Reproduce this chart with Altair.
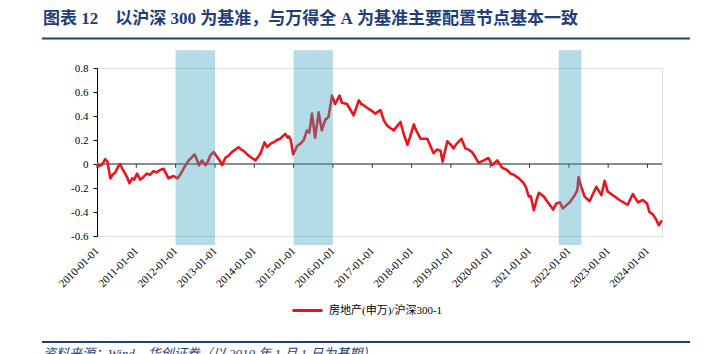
import altair as alt
import pandas as pd

# ---------------- data ----------------
dates = [
    "2010-01-04", "2010-01-15", "2010-01-30", "2010-02-14", "2010-03-18", "2010-04-08",
    "2010-05-05", "2010-05-26", "2010-06-20", "2010-07-12", "2010-08-04", "2010-08-25",
    "2010-09-20", "2010-10-12", "2010-10-30", "2010-11-24", "2010-12-12", "2011-01-08",
    "2011-02-06", "2011-03-07", "2011-04-08", "2011-05-08", "2011-06-10", "2011-07-09",
    "2011-08-10", "2011-09-13", "2011-10-05", "2011-10-27", "2011-11-18", "2011-12-13",
    "2012-01-19", "2012-02-13", "2012-03-14", "2012-05-01", "2012-05-26", "2012-06-25",
    "2012-07-16", "2012-08-05", "2012-09-02", "2012-10-05", "2012-10-27", "2012-11-17",
    "2012-12-20", "2013-01-19", "2013-02-13", "2013-03-08", "2013-04-06", "2013-05-08",
    "2013-06-07", "2013-07-09", "2013-08-08", "2013-09-02", "2013-09-24", "2013-10-27",
    "2013-11-24", "2014-01-12", "2014-02-06", "2014-02-28", "2014-04-06", "2014-05-01",
    "2014-06-03", "2014-06-28", "2014-07-31", "2014-08-29", "2014-09-20", "2014-10-16",
    "2014-11-07", "2014-11-18", "2014-12-06", "2014-12-28", "2015-02-03", "2015-03-07",
    "2015-04-06", "2015-05-05", "2015-05-27", "2015-06-21", "2015-07-20", "2015-08-22",
    "2015-09-20", "2015-10-23", "2015-11-21", "2015-12-24", "2016-01-22", "2016-03-03",
    "2016-03-25", "2016-05-11", "2016-06-13", "2016-07-12", "2016-08-29", "2016-09-20",
    "2016-10-12", "2016-11-28", "2017-01-01", "2017-01-30", "2017-03-18", "2017-04-20",
    "2017-05-19", "2017-06-17", "2017-07-20", "2017-08-14", "2017-09-20", "2017-10-20",
    "2017-11-24", "2017-12-16", "2018-01-22", "2018-02-13", "2018-03-26", "2018-05-27",
    "2018-06-25", "2018-07-24", "2018-08-25", "2018-09-27", "2018-10-16", "2018-11-29",
    "2019-01-01", "2019-01-26", "2019-02-24", "2019-04-09", "2019-05-16", "2019-06-14",
    "2019-07-16", "2019-08-14", "2019-09-16", "2019-11-02", "2019-12-16", "2020-01-19",
    "2020-03-07", "2020-04-20", "2020-06-06", "2020-07-08", "2020-08-08", "2020-09-24",
    "2020-11-07", "2020-12-01", "2020-12-24", "2021-01-12", "2021-02-10", "2021-03-07",
    "2021-03-28", "2021-05-12", "2021-06-28", "2021-08-08", "2021-09-06", "2021-10-09",
    "2021-11-06", "2022-01-08", "2022-02-24", "2022-03-20", "2022-04-01", "2022-04-26",
    "2022-05-26", "2022-07-12", "2022-09-13", "2022-10-30", "2022-11-29", "2022-12-28",
    "2023-02-14", "2023-04-16", "2023-07-01", "2023-08-18", "2023-10-05", "2023-11-18",
    "2023-12-28", "2024-01-19", "2024-02-20", "2024-03-20", "2024-04-15", "2024-05-14",
]
values = [
    0.00, -0.02, -0.01, -0.01, 0.04, 0.02,
    -0.12, -0.09, -0.07, -0.03, 0.00, -0.04,
    -0.08, -0.12, -0.16, -0.12, -0.13, -0.08,
    -0.13, -0.11, -0.08, -0.09, -0.06, -0.07,
    -0.05, -0.04, -0.08, -0.12, -0.11, -0.10,
    -0.12, -0.09, -0.04, 0.03, 0.05, 0.08,
    0.04, -0.01, 0.03, -0.01, 0.02, 0.07,
    0.10, 0.06, 0.03, -0.01, 0.05, 0.07,
    0.10, 0.12, 0.14, 0.12, 0.11, 0.08,
    0.06, 0.03, 0.06, 0.09, 0.18, 0.14,
    0.17, 0.18, 0.20, 0.21, 0.23, 0.25,
    0.22, 0.23, 0.20, 0.08, 0.15, 0.17,
    0.20, 0.28, 0.26, 0.42, 0.22, 0.43,
    0.28, 0.37, 0.39, 0.57, 0.50, 0.57,
    0.51, 0.50, 0.45, 0.405, 0.53, 0.50,
    0.49, 0.46, 0.44, 0.42, 0.45, 0.36,
    0.32, 0.30, 0.28, 0.31, 0.35, 0.25,
    0.16, 0.22, 0.33, 0.28, 0.21, 0.21,
    0.15, 0.09, 0.12, 0.11, 0.02, 0.19,
    0.16, 0.13, 0.17, 0.21, 0.13, 0.12,
    0.10, 0.06, 0.01, 0.03, 0.05, -0.01,
    0.03, -0.03, -0.05, -0.08, -0.09, -0.12,
    -0.16, -0.20, -0.27, -0.27, -0.385, -0.30,
    -0.24, -0.27, -0.33, -0.38, -0.33, -0.32,
    -0.37, -0.32, -0.26, -0.22, -0.11, -0.19,
    -0.27, -0.31, -0.19, -0.26, -0.14, -0.23,
    -0.26, -0.30, -0.34, -0.25, -0.32, -0.30,
    -0.33, -0.40, -0.42, -0.46, -0.51, -0.47,
]
series_name = "房地产(申万)/沪深300-1"

band_starts = ["2012-01-01", "2015-01-01", "2021-09-28"]
band_ends = ["2013-01-01", "2016-01-01", "2022-04-27"]
band_low, band_high = -0.675, 0.947

years = list(range(2010, 2025))
year_ticks = [f"{y}-01-01" for y in years]
x_start, x_end = "2010-01-01", "2024-05-15"
y_ticks = [-0.6, -0.4, -0.2, 0, 0.2, 0.4, 0.6, 0.8]

NB = "\u00a0"
title_text = ("图表" + NB + "12" + NB * 4 + "以沪深" + NB + "300" + NB + "为基准，与万得全"
              + NB + "A" + NB + "为基准主要配置节点基本一致")
source_text = "资料来源：Wind，华创证券（以 2010 年 1 月 1 日为基期）"

# ---------------- tables ----------------
line_df = pd.DataFrame({"date": dates, "value": values, "series": series_name})
band_df = pd.DataFrame({"start": band_starts, "end": band_ends,
                        "lo": band_low, "hi": band_high})
tick_df = pd.DataFrame({"date": year_ticks, "y0": 0.0, "y1": -0.032})
zero_df = pd.DataFrame({"start": [x_start], "end": [x_end], "y": [0.0]})

W, H = 565, 168
NAVY = "#1F3E78"
SERIF = "Liberation Serif, Noto Sans CJK SC"

xscale = alt.Scale(domain=[x_start, x_end])
yscale = alt.Scale(domain=[-0.6, 0.8])

x_axis = alt.Axis(
    values=[alt.DateTime(year=y, month=1, date=1) for y in years],
    format="%Y-%m-%d", labelAngle=-45, labelAlign="right", labelBaseline="middle",
    domain=False, ticks=False, tickSize=0, grid=False, labelPadding=13,
    labelFont=SERIF, labelFontSize=11, labelColor="#000", title=None,
    labelOverlap=False,
)
y_axis = alt.Axis(
    values=y_ticks, grid=False, domainColor="#000", tickColor="#000", tickSize=4,
    labelFont=SERIF, labelFontSize=11, labelColor="#000", labelPadding=5, title=None,
    labelOverlap=False, labelBound=False,
    labelExpr="datum.value < -0.01 ? '-' + format(-datum.value, '.1f') : (datum.value < 0.01 ? '0' : format(datum.value, '.1f'))",
)

zero_line = alt.Chart(zero_df).mark_rule(color="#8C8C8C", strokeWidth=2).encode(
    x=alt.X("start:T", scale=xscale, axis=x_axis),
    x2="end:T",
    y=alt.Y("y:Q", scale=yscale, axis=y_axis),
)

ticks = alt.Chart(tick_df).mark_rule(color="#333", strokeWidth=1).encode(
    x=alt.X("date:T", scale=xscale, axis=x_axis),
    y=alt.Y("y0:Q", scale=yscale, axis=y_axis),
    y2="y1:Q",
)

line = alt.Chart(line_df).mark_line(strokeWidth=2.6, strokeJoin="round").encode(
    x=alt.X("date:T", scale=xscale, axis=x_axis),
    y=alt.Y("value:Q", scale=yscale, axis=y_axis),
    color=alt.Color(
        "series:N",
        scale=alt.Scale(domain=[series_name], range=["#E8141E"]),
        legend=alt.Legend(
            title=None, orient="none", legendX=194, legendY=226,
            symbolType="stroke", symbolSize=900, symbolStrokeWidth=3,
            labelFont=SERIF, labelFontSize=11, labelColor="#000", labelOffset=5,
            padding=0,
        ),
    ),
)

bands = alt.Chart(band_df).mark_rect(color="#3AA3BD", opacity=0.38).encode(
    x=alt.X("start:T", scale=xscale, axis=x_axis),
    x2="end:T",
    y=alt.Y("lo:Q", scale=yscale, axis=y_axis),
    y2="hi:Q",
)

one = alt.Data(values=[{}])
title = alt.Chart(one).mark_text(
    text=title_text, font=SERIF, fontSize=17, fontWeight="bold", color=NAVY,
    align="left", baseline="alphabetic",
).encode(x=alt.value(-54), y=alt.value(-44))

top_rule = alt.Chart(one).mark_rule(color=NAVY, strokeWidth=2).encode(
    x=alt.value(-55), x2=alt.value(593), y=alt.value(-29.5))
bottom_rule = alt.Chart(one).mark_rule(color=NAVY, strokeWidth=2).encode(
    x=alt.value(-55), x2=alt.value(593), y=alt.value(274))

source = alt.Chart(one).mark_text(
    text=source_text, font=SERIF, fontSize=13, fontStyle="italic", color=NAVY,
    align="left", baseline="top",
).encode(x=alt.value(-54), y=alt.value(279.5))

chart = alt.layer(
    zero_line, ticks, line, bands, title, top_rule, bottom_rule, source
).properties(
    width=W, height=H,
    padding={"left": 97, "top": 68, "right": 41, "bottom": 118},
    autosize=alt.AutoSizeParams(type="none"),
).configure_view(stroke=None).configure(background="white").configure_axis(
    labelOverlap=False
)

chart.save("out.html", embed_options={"renderer": "svg", "actions": False})
